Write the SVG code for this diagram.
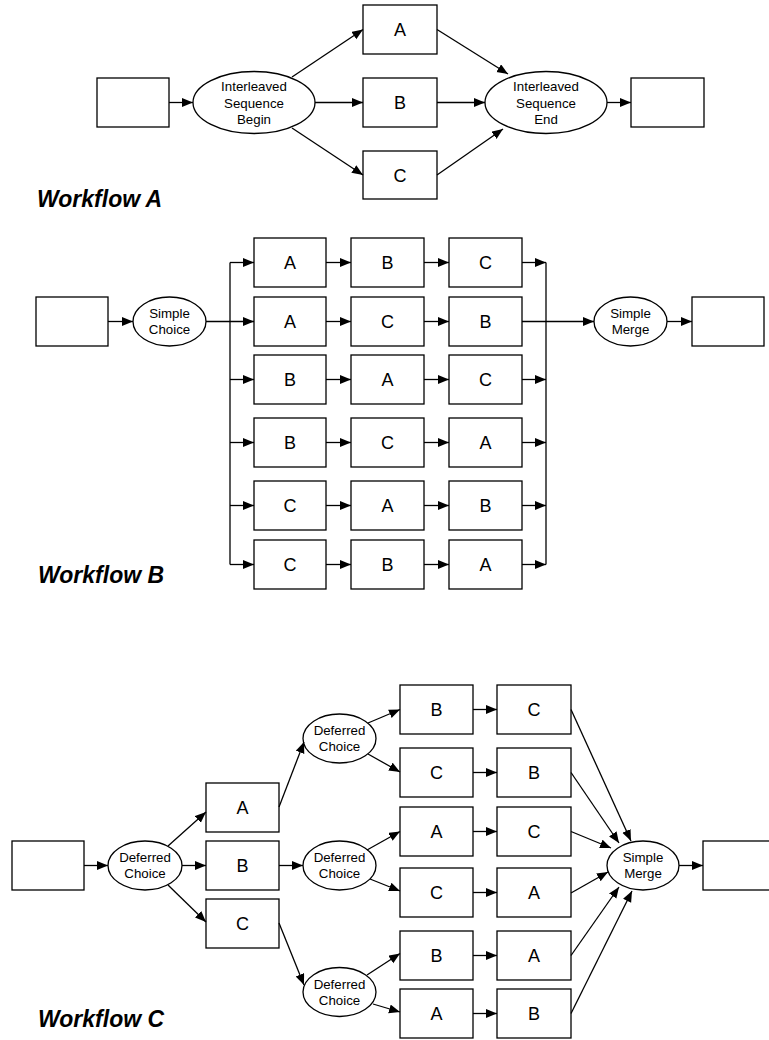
<svg xmlns="http://www.w3.org/2000/svg" width="769" height="1040" viewBox="0 0 769 1040">
<defs>
<marker id="ah" markerUnits="userSpaceOnUse" markerWidth="12" markerHeight="10" refX="11" refY="4.5" orient="auto">
<path d="M0,0 L11,4.5 L0,9 z" fill="#000"/>
</marker>
<style>
rect,ellipse{fill:#fff;stroke:#000;stroke-width:1.3}
.c line,.c polyline{stroke:#000;stroke-width:1.3;fill:none}
.a{marker-end:url(#ah)}
.t{font-family:"Liberation Sans",Arial,sans-serif;font-size:18px;text-anchor:middle;fill:#000}
.e{font-family:"Liberation Sans",Arial,sans-serif;font-size:13.3px;text-anchor:middle;fill:#000}
.h{font-family:"Liberation Sans",Arial,sans-serif;font-size:23px;font-weight:bold;font-style:italic;fill:#000}
</style>
</defs>
<rect x="0" y="0" width="769" height="1040" style="fill:#fff;stroke:none"/>

<!-- Workflow A -->
<g id="a_in"><rect x="97" y="78" width="72" height="49"/></g>
<g id="a_begin"><ellipse cx="254" cy="102.5" rx="61" ry="31"/><text class="e" x="254" y="91">Interleaved</text><text class="e" x="254" y="107.5">Sequence</text><text class="e" x="254" y="124">Begin</text></g>
<g id="a_A"><rect x="363" y="5" width="74" height="49"/><text class="t" x="400" y="36">A</text></g>
<g id="a_B"><rect x="363" y="78" width="74" height="49"/><text class="t" x="400" y="109">B</text></g>
<g id="a_C"><rect x="363" y="151" width="74" height="48"/><text class="t" x="400" y="181.5">C</text></g>
<g id="a_end"><ellipse cx="546" cy="102.5" rx="61" ry="31"/><text class="e" x="546" y="91">Interleaved</text><text class="e" x="546" y="107.5">Sequence</text><text class="e" x="546" y="124">End</text></g>
<g id="a_out"><rect x="631" y="78" width="73" height="49"/></g>
<g id="a_label"><text class="h" x="37" y="207">Workflow A</text></g>

<!-- Workflow B -->
<g id="b_in"><rect x="36" y="297" width="72" height="49"/></g>
<g id="b_choice"><ellipse cx="169.5" cy="321.5" rx="36.5" ry="24.5"/><text class="e" x="169.5" y="318">Simple</text><text class="e" x="169.5" y="334">Choice</text></g>
<g id="b_r1c1"><rect x="254" y="238" width="72" height="49"/><text class="t" x="290" y="269">A</text></g>
<g id="b_r1c2"><rect x="351" y="238" width="73" height="49"/><text class="t" x="387.5" y="269">B</text></g>
<g id="b_r1c3"><rect x="449" y="238" width="73" height="49"/><text class="t" x="485.5" y="269">C</text></g>
<g id="b_r2c1"><rect x="254" y="297" width="72" height="49"/><text class="t" x="290" y="328">A</text></g>
<g id="b_r2c2"><rect x="351" y="297" width="73" height="49"/><text class="t" x="387.5" y="328">C</text></g>
<g id="b_r2c3"><rect x="449" y="297" width="73" height="49"/><text class="t" x="485.5" y="328">B</text></g>
<g id="b_r3c1"><rect x="254" y="355" width="72" height="49"/><text class="t" x="290" y="386">B</text></g>
<g id="b_r3c2"><rect x="351" y="355" width="73" height="49"/><text class="t" x="387.5" y="386">A</text></g>
<g id="b_r3c3"><rect x="449" y="355" width="73" height="49"/><text class="t" x="485.5" y="386">C</text></g>
<g id="b_r4c1"><rect x="254" y="418" width="72" height="49"/><text class="t" x="290" y="449">B</text></g>
<g id="b_r4c2"><rect x="351" y="418" width="73" height="49"/><text class="t" x="387.5" y="449">C</text></g>
<g id="b_r4c3"><rect x="449" y="418" width="73" height="49"/><text class="t" x="485.5" y="449">A</text></g>
<g id="b_r5c1"><rect x="254" y="481" width="72" height="49"/><text class="t" x="290" y="512">C</text></g>
<g id="b_r5c2"><rect x="351" y="481" width="73" height="49"/><text class="t" x="387.5" y="512">A</text></g>
<g id="b_r5c3"><rect x="449" y="481" width="73" height="49"/><text class="t" x="485.5" y="512">B</text></g>
<g id="b_r6c1"><rect x="254" y="540" width="72" height="49"/><text class="t" x="290" y="571">C</text></g>
<g id="b_r6c2"><rect x="351" y="540" width="73" height="49"/><text class="t" x="387.5" y="571">B</text></g>
<g id="b_r6c3"><rect x="449" y="540" width="73" height="49"/><text class="t" x="485.5" y="571">A</text></g>
<g id="b_merge"><ellipse cx="630.5" cy="321.5" rx="36.5" ry="24.5"/><text class="e" x="630.5" y="318">Simple</text><text class="e" x="630.5" y="334">Merge</text></g>
<g id="b_out"><rect x="692" y="297" width="72" height="49"/></g>
<g id="b_label"><text class="h" x="38" y="583">Workflow B</text></g>

<!-- Workflow C -->
<g id="c_in"><rect x="12" y="841" width="72" height="49"/></g>
<g id="c_dc1"><ellipse cx="145" cy="865.5" rx="37" ry="24.5"/><text class="e" x="145" y="862">Deferred</text><text class="e" x="145" y="878">Choice</text></g>
<g id="c_A"><rect x="206" y="783" width="73" height="49"/><text class="t" x="242.5" y="814">A</text></g>
<g id="c_B"><rect x="206" y="841" width="73" height="49"/><text class="t" x="242.5" y="872">B</text></g>
<g id="c_C"><rect x="206" y="899" width="73" height="49"/><text class="t" x="242.5" y="930">C</text></g>
<g id="c_dc2"><ellipse cx="339.5" cy="738.5" rx="36.5" ry="24.5"/><text class="e" x="339.5" y="735">Deferred</text><text class="e" x="339.5" y="751">Choice</text></g>
<g id="c_dc3"><ellipse cx="339.5" cy="865.5" rx="36.5" ry="24.5"/><text class="e" x="339.5" y="862">Deferred</text><text class="e" x="339.5" y="878">Choice</text></g>
<g id="c_dc4"><ellipse cx="339.5" cy="992" rx="36.5" ry="24.5"/><text class="e" x="339.5" y="988.5">Deferred</text><text class="e" x="339.5" y="1004.5">Choice</text></g>
<g id="c_r1c1"><rect x="400" y="685" width="73" height="49"/><text class="t" x="436.5" y="716">B</text></g>
<g id="c_r1c2"><rect x="497" y="685" width="74" height="49"/><text class="t" x="534" y="716">C</text></g>
<g id="c_r2c1"><rect x="400" y="748" width="73" height="49"/><text class="t" x="436.5" y="779">C</text></g>
<g id="c_r2c2"><rect x="497" y="748" width="74" height="49"/><text class="t" x="534" y="779">B</text></g>
<g id="c_r3c1"><rect x="400" y="807" width="73" height="49"/><text class="t" x="436.5" y="838">A</text></g>
<g id="c_r3c2"><rect x="497" y="807" width="74" height="49"/><text class="t" x="534" y="838">C</text></g>
<g id="c_r4c1"><rect x="400" y="868" width="73" height="49"/><text class="t" x="436.5" y="899">C</text></g>
<g id="c_r4c2"><rect x="497" y="868" width="74" height="49"/><text class="t" x="534" y="899">A</text></g>
<g id="c_r5c1"><rect x="400" y="931" width="73" height="49"/><text class="t" x="436.5" y="962">B</text></g>
<g id="c_r5c2"><rect x="497" y="931" width="74" height="49"/><text class="t" x="534" y="962">A</text></g>
<g id="c_r6c1"><rect x="400" y="989" width="73" height="49"/><text class="t" x="436.5" y="1020">A</text></g>
<g id="c_r6c2"><rect x="497" y="989" width="74" height="49"/><text class="t" x="534" y="1020">B</text></g>
<g id="c_merge"><ellipse cx="643" cy="865.5" rx="36" ry="24.5"/><text class="e" x="643" y="862">Simple</text><text class="e" x="643" y="878">Merge</text></g>
<g id="c_out"><rect x="703" y="841" width="72" height="49"/></g>
<g id="c_label"><text class="h" x="38" y="1027">Workflow C</text></g>

<g id="connectors" class="c">
<!-- A -->
<line class="a" x1="169" y1="102.5" x2="193" y2="102.5"/>
<line class="a" x1="292" y1="77" x2="363" y2="29.5"/>
<line class="a" x1="315" y1="102.5" x2="363" y2="102.5"/>
<line class="a" x1="292" y1="128" x2="363" y2="175"/>
<line class="a" x1="437" y1="29.5" x2="508" y2="74"/>
<line class="a" x1="437" y1="102.5" x2="485" y2="102.5"/>
<line class="a" x1="437" y1="175" x2="503" y2="129"/>
<line class="a" x1="607" y1="102.5" x2="631" y2="102.5"/>
<!-- B -->
<line class="a" x1="108" y1="321.5" x2="133" y2="321.5"/>
<line x1="230" y1="262.5" x2="230" y2="564.5"/>
<line x1="546" y1="262.5" x2="546" y2="564.5"/>
<line class="a" x1="206" y1="321.5" x2="254" y2="321.5"/>
<line class="a" x1="230" y1="262.5" x2="254" y2="262.5"/>
<line class="a" x1="230" y1="379.5" x2="254" y2="379.5"/>
<line class="a" x1="230" y1="442.5" x2="254" y2="442.5"/>
<line class="a" x1="230" y1="505.5" x2="254" y2="505.5"/>
<line class="a" x1="230" y1="564.5" x2="254" y2="564.5"/>
<line class="a" x1="326" y1="262.5" x2="351" y2="262.5"/>
<line class="a" x1="326" y1="321.5" x2="351" y2="321.5"/>
<line class="a" x1="326" y1="379.5" x2="351" y2="379.5"/>
<line class="a" x1="326" y1="442.5" x2="351" y2="442.5"/>
<line class="a" x1="326" y1="505.5" x2="351" y2="505.5"/>
<line class="a" x1="326" y1="564.5" x2="351" y2="564.5"/>
<line class="a" x1="424" y1="262.5" x2="449" y2="262.5"/>
<line class="a" x1="424" y1="321.5" x2="449" y2="321.5"/>
<line class="a" x1="424" y1="379.5" x2="449" y2="379.5"/>
<line class="a" x1="424" y1="442.5" x2="449" y2="442.5"/>
<line class="a" x1="424" y1="505.5" x2="449" y2="505.5"/>
<line class="a" x1="424" y1="564.5" x2="449" y2="564.5"/>
<line class="a" x1="522" y1="262.5" x2="546" y2="262.5"/>
<line class="a" x1="522" y1="321.5" x2="594" y2="321.5"/>
<line class="a" x1="522" y1="379.5" x2="546" y2="379.5"/>
<line class="a" x1="522" y1="442.5" x2="546" y2="442.5"/>
<line class="a" x1="522" y1="505.5" x2="546" y2="505.5"/>
<line class="a" x1="522" y1="564.5" x2="546" y2="564.5"/>
<line class="a" x1="667" y1="321.5" x2="692" y2="321.5"/>
<!-- C -->
<line class="a" x1="84" y1="865.5" x2="108" y2="865.5"/>
<line class="a" x1="168" y1="846" x2="206" y2="812"/>
<line class="a" x1="182" y1="865.5" x2="206" y2="865.5"/>
<line class="a" x1="168" y1="885" x2="206" y2="922"/>
<line class="a" x1="279" y1="807" x2="304" y2="742"/>
<line class="a" x1="368" y1="723" x2="400" y2="709.5"/>
<line class="a" x1="368" y1="754" x2="400" y2="772"/>
<line class="a" x1="279" y1="865.5" x2="303" y2="865.5"/>
<line class="a" x1="367" y1="850" x2="400" y2="831.5"/>
<line class="a" x1="370" y1="879" x2="400" y2="891"/>
<line class="a" x1="279" y1="923" x2="304" y2="985"/>
<line class="a" x1="367" y1="975" x2="400" y2="953.5"/>
<line class="a" x1="373" y1="1004" x2="400" y2="1012"/>
<line class="a" x1="473" y1="709.5" x2="497" y2="709.5"/>
<line class="a" x1="473" y1="772.5" x2="497" y2="772.5"/>
<line class="a" x1="473" y1="831.5" x2="497" y2="831.5"/>
<line class="a" x1="473" y1="892.5" x2="497" y2="892.5"/>
<line class="a" x1="473" y1="955.5" x2="497" y2="955.5"/>
<line class="a" x1="473" y1="1013.5" x2="497" y2="1013.5"/>
<line class="a" x1="571" y1="709.5" x2="631" y2="841"/>
<line class="a" x1="571" y1="772.5" x2="619" y2="843"/>
<line class="a" x1="571" y1="831.5" x2="611" y2="848"/>
<line class="a" x1="571" y1="893" x2="608" y2="872"/>
<line class="a" x1="571" y1="955.5" x2="619" y2="887"/>
<line class="a" x1="571" y1="1013.5" x2="632" y2="891"/>
<line class="a" x1="679" y1="865.5" x2="703" y2="865.5"/>
</g>
</svg>
